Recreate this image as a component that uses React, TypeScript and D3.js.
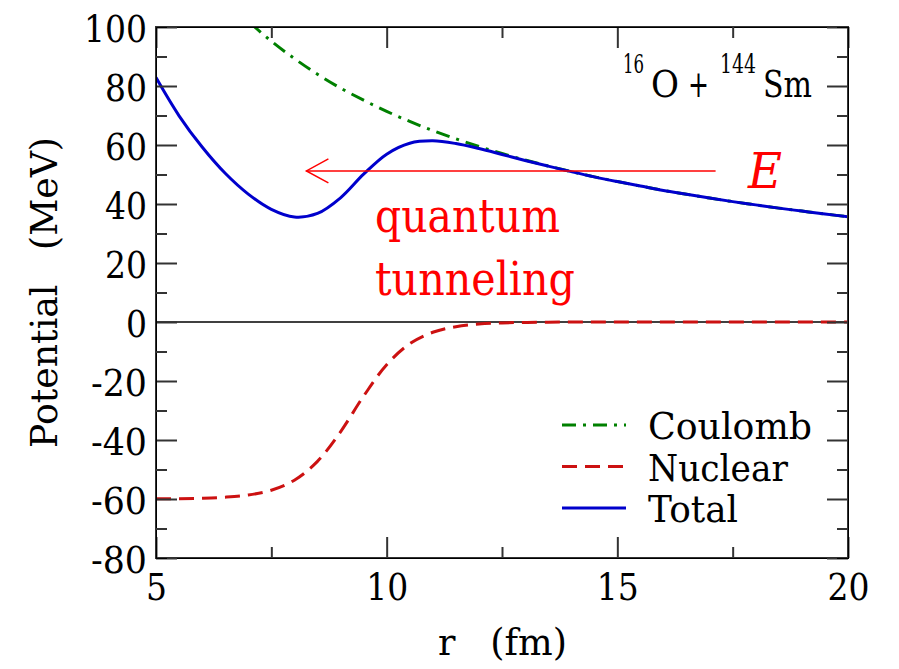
import * as d3 from "d3";
import { useRef, useEffect } from "react";

// r grid (fm) and potentials (MeV)
const radius = [5, 5.5, 6, 6.5, 7, 7.5, 8, 8.5, 9, 9.5, 10, 10.5, 11, 11.5, 12, 12.5, 13, 13.5, 14, 14.5, 15, 15.5, 16, 16.5, 17, 17.5, 18, 18.5, 19, 19.5, 20];
const coulomb = [142.8, 129.8, 119.0, 109.8, 102.0, 95.2, 89.3, 84.0, 79.3, 75.2, 71.4, 68.0, 64.9, 62.1, 59.5, 57.1, 54.9, 52.9, 51.0, 49.2, 47.6, 46.1, 44.6, 43.3, 42.0, 40.8, 39.7, 38.6, 37.6, 36.6, 35.7];
const nuclear = [-59.95, -59.88, -59.73, -59.39, -58.65, -57.02, -53.62, -47.24, -37.22, -25.13, -14.46, -7.36, -3.48, -1.58, -0.71, -0.31, -0.14, -0.06, -0.03, -0.01, 0, 0, 0, 0, 0, 0, 0, 0, 0, 0, 0];
const total = [82.85, 69.9, 59.3, 50.4, 43.35, 38.2, 35.6, 36.8, 42.1, 50.1, 56.9, 60.6, 61.4, 60.5, 58.8, 56.8, 54.76, 52.84, 50.97, 49.19, 47.6, 46.1, 44.6, 43.3, 42.0, 40.8, 39.7, 38.6, 37.6, 36.6, 35.7];

const xTicks = [5, 10, 15, 20];
const yTicks = [-80, -60, -40, -20, 0, 20, 40, 60, 80, 100];
const legendNames = ["Coulomb", "Nuclear", "Total"];

// tunneling arrow: energy and r span
const energy = 51.2;
const arrowFrom = 17.13;
const arrowTo = 8.26;

// only DejaVu Serif renders as a serif here; squeeze it to Times-like widths
const serif = "DejaVu Serif";
const tickWidth = (s: string) => s.replace("-", "").length * 21 + (s.startsWith("-") ? 14 : 0);

export default function App() {
  const width = 899;
  const height = 669;
  const marginLeft = 156;
  const marginRight = 51;
  const marginTop = 27;
  const marginBottom = 111;

  const gx = useRef<SVGGElement | null>(null);
  const gy = useRef<SVGGElement | null>(null);
  const gTop = useRef<SVGGElement | null>(null);
  const gRight = useRef<SVGGElement | null>(null);

  const x = d3.scaleLinear([5, 20], [marginLeft, width - marginRight]);
  const y = d3.scaleLinear([-80, 100], [height - marginBottom, marginTop]);

  const line = d3.line<number>()
    .x((_, i) => x(radius[i]))
    .y((d) => y(d))
    .curve(d3.curveCatmullRom);

  const minorX = d3.range(7.5, 20, 5);
  const minorY = d3.range(-70, 100, 20);

  useEffect(() => {
    const style = (g: d3.Selection<SVGGElement, unknown, null, undefined>) => {
      g.attr("font-family", serif).attr("font-size", 38);
      g.select(".domain").remove();
      g.selectAll("line").attr("stroke", "#333").attr("stroke-width", 2);
      g.selectAll<SVGTextElement, number>(".tick text")
        .attr("fill", "#000")
        .attr("lengthAdjust", "spacingAndGlyphs")
        .attr("textLength", (d) => tickWidth(String(d)));
    };
    if (gx.current) {
      const g = d3.select(gx.current);
      g.call(d3.axisBottom(x).tickValues(xTicks).tickSize(-21).tickFormat((d) => String(d)));
      g.append("g").call(d3.axisBottom(x).tickValues(minorX).tickSize(-11).tickFormat(() => ""));
      style(g);
      g.selectAll(".tick text").attr("y", 42).attr("dy", 0);
    }
    if (gTop.current) {
      const g = d3.select(gTop.current);
      g.call(d3.axisTop(x).tickValues(xTicks).tickSize(-21).tickFormat(() => ""));
      g.append("g").call(d3.axisTop(x).tickValues(minorX).tickSize(-11).tickFormat(() => ""));
      style(g);
    }
    if (gy.current) {
      const g = d3.select(gy.current);
      g.call(d3.axisLeft(y).tickValues(yTicks).tickSize(-21).tickPadding(9).tickFormat((d) => String(d)));
      g.append("g").call(d3.axisLeft(y).tickValues(minorY).tickSize(-11).tickFormat(() => ""));
      style(g);
      g.selectAll(".tick text").attr("dy", "0.37em");
    }
    if (gRight.current) {
      const g = d3.select(gRight.current);
      g.call(d3.axisRight(y).tickValues(yTicks).tickSize(-21).tickFormat(() => ""));
      g.append("g").call(d3.axisRight(y).tickValues(minorY).tickSize(-11).tickFormat(() => ""));
      style(g);
    }
  }, [x, y]);

  const plotW = width - marginLeft - marginRight;
  const plotH = height - marginTop - marginBottom;

  const styles = [
    { color: "#008000", dash: "14 7 3 7" },
    { color: "#cc1111", dash: "15 8" },
    { color: "#0000cc", dash: "" },
  ];
  const series = [coulomb, nuclear, total];
  const legendWidths = [164, 140, 90];

  const ay = y(energy);
  const tipX = x(arrowTo);

  return (
    <svg width={width} height={height} fontFamily={serif} style={{ position: "absolute", left: 0, top: 0, background: "#fff" }}>
      <defs>
        <clipPath id="plot">
          <rect x={marginLeft} y={marginTop} width={plotW} height={plotH} />
        </clipPath>
      </defs>

      {/* zero line */}
      <line x1={marginLeft} x2={width - marginRight} y1={y(0)} y2={y(0)} stroke="#000" strokeWidth={1.5} />

      <g clipPath="url(#plot)" fill="none" strokeWidth={3}>
        {series.map((s, i) => (
          <path key={i} d={line(s) ?? undefined} stroke={styles[i].color} strokeDasharray={styles[i].dash} />
        ))}
      </g>

      {/* arrow */}
      <g stroke="#ff0000" strokeWidth={1.5} fill="none">
        <line x1={x(arrowFrom)} x2={tipX} y1={ay} y2={ay} />
        <polyline points={`${tipX + 22},${ay - 12} ${tipX},${ay} ${tipX + 22},${ay + 12}`} />
      </g>
      <text x={748} y={188} fill="#ff0000" fontStyle="italic" fontSize={48} textLength={34} lengthAdjust="spacingAndGlyphs">E</text>
      <text fill="#ff0000" fontSize={47}>
        <tspan x={375} y={232} textLength={185} lengthAdjust="spacingAndGlyphs">quantum</tspan>
      </text>
      <text fill="#ff0000" fontSize={47}>
        <tspan x={375} y={295} textLength={200} lengthAdjust="spacingAndGlyphs">tunneling</tspan>
      </text>

      {/* reaction label */}
      <text fontSize={26}>
        <tspan x={623} y={73} textLength={21} lengthAdjust="spacingAndGlyphs">16</tspan>
      </text>
      <text fontSize={38}>
        <tspan x={651} y={97} textLength={28} lengthAdjust="spacingAndGlyphs">O</tspan>
      </text>
      <text fontSize={38}>
        <tspan x={688} y={97} textLength={21} lengthAdjust="spacingAndGlyphs">+</tspan>
      </text>
      <text fontSize={26}>
        <tspan x={720} y={73} textLength={36} lengthAdjust="spacingAndGlyphs">144</tspan>
      </text>
      <text fontSize={38}>
        <tspan x={763} y={97} textLength={49} lengthAdjust="spacingAndGlyphs">Sm</tspan>
      </text>

      {/* legend */}
      <g>
        {legendNames.map((name, i) => (
          <g key={name} transform={`translate(562,${425 + i * 41.5})`}>
            <line x1={0} x2={64} y1={0} y2={0} stroke={styles[i].color} strokeWidth={3} strokeDasharray={styles[i].dash} />
            <text x={86} y={14} fontSize={37} textLength={legendWidths[i]} lengthAdjust="spacingAndGlyphs">{name}</text>
          </g>
        ))}
      </g>

      {/* frame */}
      <rect x={marginLeft} y={marginTop} width={plotW} height={plotH} fill="none" stroke="#333" strokeWidth={2} />
      <g ref={gx} transform={`translate(0,${height - marginBottom})`} />
      <g ref={gTop} transform={`translate(0,${marginTop})`} />
      <g ref={gy} transform={`translate(${marginLeft},0)`} />
      <g ref={gRight} transform={`translate(${width - marginRight},0)`} />

      {/* axis titles */}
      <text x={438} y={655} fontSize={38} textLength={129} lengthAdjust="spacingAndGlyphs" style={{ whiteSpace: "pre" }}>r   (fm)</text>
      <text transform="translate(57,448) rotate(-90)" fontSize={38} textLength={311} lengthAdjust="spacingAndGlyphs" style={{ whiteSpace: "pre" }}>Potential   (MeV)</text>
    </svg>
  );
}
